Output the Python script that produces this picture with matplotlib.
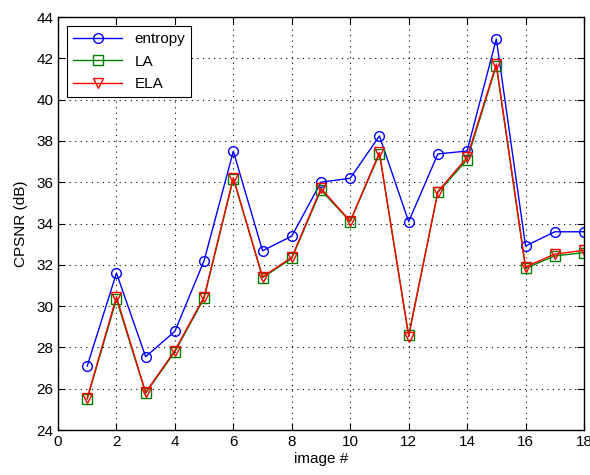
import numpy as np
import matplotlib
matplotlib.use('Agg')
import matplotlib.pyplot as plt

plt.rcParams['font.family'] = ['Liberation Sans', 'DejaVu Sans']

# data
images = list(range(1, 19))
entropy = [27.1, 31.6, 27.55, 28.78, 32.2, 37.5, 32.68, 33.39, 36.0,
           36.19, 38.24, 34.09, 37.37, 37.51, 42.94, 32.91, 33.6, 33.6]
la = [25.5, 30.33, 25.78, 27.79, 30.38, 36.17, 31.38, 32.31, 35.62,
      34.09, 37.37, 28.6, 35.51, 37.08, 41.64, 31.83, 32.43, 32.59]
ela = [25.55, 30.45, 25.82, 27.85, 30.45, 36.22, 31.42, 32.36, 35.7,
       34.12, 37.44, 28.52, 35.55, 37.2, 41.72, 31.9, 32.52, 32.7]

xticks = np.arange(0, 19, 2)
yticks = np.arange(24, 45, 2)

fig = plt.figure(figsize=(5.9, 4.75), dpi=100)
ax = fig.add_axes([0.0983, 0.0947, 0.8915, 0.8695])

ax.plot(images, entropy, '-o', color='#0000ff', mfc='none', ms=7, lw=1, mew=1, label='entropy')
ax.plot(images, la, '-s', color='#008000', mfc='none', ms=7, lw=1, mew=1, label='LA')
ax.plot(images, ela, '-v', color='#ff0000', mfc='none', ms=7, lw=1, mew=1, label='ELA')

ax.set_xlim(0, 18)
ax.set_ylim(24, 44)
ax.set_xticks(xticks)
ax.set_yticks(yticks)
ax.tick_params(direction='in', top=True, right=True, labelsize=11, length=5, width=0.8)
ax.grid(True, color='black', linestyle=(0, (1, 4)), linewidth=0.8)
for s in ax.spines.values():
    s.set_linewidth(1)

ax.set_xlabel('image #', fontsize=11, labelpad=2)
ax.set_ylabel('CPSNR (dB)', fontsize=11, labelpad=6)

leg = ax.legend(loc='upper left', fontsize=11, fancybox=False, edgecolor='black',
                framealpha=1, borderaxespad=0.6, handlelength=3.2, labelspacing=0.55,
                bbox_to_anchor=(0, 1))
leg.get_frame().set_linewidth(0.8)

fig.savefig('out.png', dpi=100)
